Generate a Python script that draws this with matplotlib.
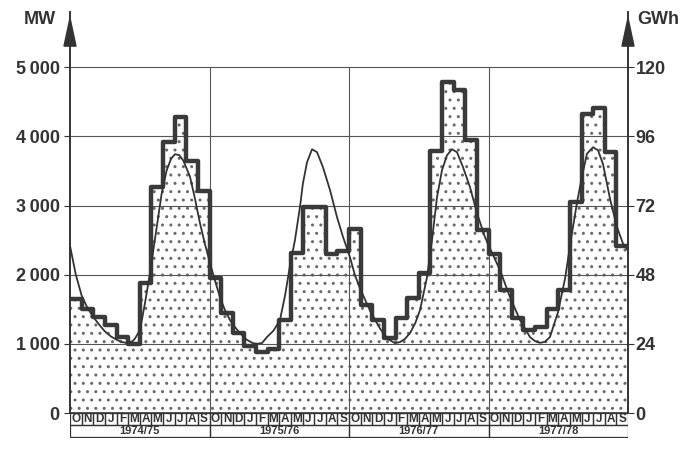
import numpy as np
import matplotlib.pyplot as plt
from matplotlib.patches import Rectangle

# Monatsbezeichnungen und Jahre
months = ["O", "N", "D", "J", "F", "M", "A", "M", "J", "J", "A", "S"]
seasons = ["1974/75", "1975/76", "1976/77", "1977/78"]

# mittlere Monatsleistung in MW (Treppenkurve)
power_mw = [
    1650, 1500, 1390, 1270, 1100, 1000, 1880, 3270, 3920, 4280, 3640, 3210,
    1950, 1445, 1156, 968, 881, 925, 1344, 2312, 2977, 2977, 2298, 2341,
    2659, 1561, 1344, 1084, 1373, 1662, 2023, 3786, 4783, 4668, 3945, 2645,
    2298, 1777, 1373, 1199, 1243, 1503, 1777, 3049, 4321, 4408, 3772, 2413,
]

# glatte Kurve: Zeit in Monaten ab Oktober 1974, Leistung in MW
curve_t = [
    0, 0.5, 1.0, 1.5, 2.0, 2.5, 3.0, 3.5, 4.0, 4.5, 4.9, 5.4, 5.6, 6.02,
    6.45, 6.88, 7.46, 7.89, 8.32, 8.7, 9.03, 9.4, 9.75, 10.32, 10.75, 11.18,
    11.6, 12.04, 12.5, 12.9, 13.3, 13.76, 14.2, 14.62, 15.2, 15.74, 16.1,
    16.52, 16.95, 17.5, 18.06, 18.5, 18.92, 19.35, 19.78, 20.04, 20.39,
    20.82, 21.25, 21.76, 22.37, 22.97, 23.48, 24.09, 24.5, 24.95, 25.81,
    26.67, 27.35, 27.96, 28.39, 28.8, 29.25, 29.7, 30.11, 30.71, 31.14,
    31.57, 32.0, 32.43, 32.86, 33.29, 33.81, 34.41, 35.01, 35.7, 36.13,
    36.99, 37.85, 38.71, 39.57, 40.0, 40.43, 40.86, 41.29, 41.98, 42.58,
    43.18, 43.61, 44.04, 44.47, 44.99, 45.42, 45.85, 46.45, 47.05, 47.57, 48.0,
]
curve_mw = [
    2420, 2000, 1700, 1520, 1390, 1280, 1180, 1110, 1060, 1025, 1012, 1040,
    1080, 1200, 1590, 2023, 2688, 3179, 3512, 3680, 3743, 3730, 3650, 3420,
    3100, 2746, 2450, 2168, 1900, 1676, 1500, 1344, 1240, 1156, 1060, 1010,
    1002, 1012, 1100, 1190, 1344, 1700, 2130, 2500, 2977, 3324, 3627, 3815,
    3772, 3555, 3222, 2832, 2550, 2250, 2000, 1800, 1480, 1220, 1070, 1010,
    1026, 1070, 1156, 1300, 1488, 1965, 2500, 3121, 3512, 3728, 3815, 3772,
    3555, 3266, 2890, 2543, 2380, 2066, 1676, 1344, 1098, 1040, 1015, 1030,
    1100, 1460, 1940, 2600, 3040, 3420, 3750, 3844, 3800, 3600, 3100, 2690,
    2450, 2350,
]

left_ticks = [0, 1000, 2000, 3000, 4000, 5000]
left_labels = ["0", "1\u2009000", "2\u2009000", "3\u2009000", "4\u2009000", "5\u2009000"]
right_labels = ["0", "24", "48", "72", "96", "120"]

ink = "#333333"
plt.rcParams["font.family"] = ["Liberation Sans", "DejaVu Sans"]
plt.rcParams["hatch.linewidth"] = 1.0
plt.rcParams["hatch.color"] = "#6a6a6a"

fig = plt.figure(figsize=(6.94, 4.5), dpi=100)
W, H = 694, 450
x0, x1, yb, yt = 70, 628, 413, 12
ax = fig.add_axes([x0 / W, 1 - yb / H, (x1 - x0) / W, (yb - yt) / H])
tab = fig.add_axes([x0 / W, 1 - 438 / H, (x1 - x0) / W, 25 / H])

n = len(power_mw)
edges = np.arange(n + 1)
vals = np.append(power_mw, power_mw[-1])

ax.fill_between(edges, vals, step="post", facecolor="white",
                edgecolor="#6a6a6a", hatch="..", lw=0, zorder=1)
ax.step(edges, vals, where="post", color="#3a3a3a", lw=3.2, zorder=4)
ax.plot(curve_t, curve_mw, color=ink, lw=1.3, zorder=5)

for v in left_ticks[1:]:
    ax.axhline(v, color="#555555", lw=0.8, zorder=2)
ax.axhline(0, color=ink, lw=1.2, zorder=3)
ax.vlines([12, 24, 36], 0, 5000, color="#555555", lw=0.8, zorder=2)

ax.set_xlim(0, n)
ax.set_ylim(0, 5800)
ax.set_xticks([])
ax.set_yticks(left_ticks)
ax.set_yticklabels(left_labels)
ax.tick_params(axis="y", direction="out", length=4, width=0.8, color=ink,
               labelsize=13, labelcolor=ink, pad=3.5)

ax2 = ax.twinx()
ax2.set_ylim(0, 5800)
ax2.set_yticks(left_ticks)
ax2.set_yticklabels(right_labels)
ax2.tick_params(axis="y", direction="out", length=4, width=0.8, color=ink,
                labelsize=13, labelcolor=ink, pad=1.5)

for a in (ax, ax2):
    for s in ("top", "bottom"):
        a.spines[s].set_visible(False)
    a.spines["left"].set_color(ink)
    a.spines["right"].set_color(ink)
    a.spines["left"].set_linewidth(1.2)
    a.spines["right"].set_linewidth(1.2)
    for lab in a.get_yticklabels():
        lab.set_fontweight("bold")

# Pfeilspitzen an den Achsen
for xa in (0, n):
    ax.annotate("", xy=(xa, 5800), xytext=(xa, 5300),
                arrowprops=dict(arrowstyle="-|>,head_length=1.4,head_width=0.3",
                                color=ink, lw=1.2, mutation_scale=14),
                annotation_clip=False, zorder=6)

fig.text(40 / W, 1 - 20 / H, "MW", ha="center", va="center",
         fontsize=13, fontweight="bold", color=ink)
fig.text(637 / W, 1 - 20 / H, "GWh", ha="left", va="center",
         fontsize=13, fontweight="bold", color=ink)

# Monats- und Jahresleiste
tab.set_xlim(0, n)
tab.set_ylim(0, 2)
tab.axis("off")
for i in range(n):
    tab.add_patch(Rectangle((i, 1.05), 1, 0.95, fill=False, ec=ink, lw=0.9))
    tab.text(i + 0.5, 1.5, months[i % 12], ha="center", va="center",
             fontsize=8.5, fontweight="bold", color=ink)
for k, s in enumerate(seasons):
    tab.add_patch(Rectangle((12 * k, 0.05), 12, 1.0, fill=False, ec=ink, lw=0.9))
    tab.text(12 * k + 6, 0.52, s, ha="center", va="center",
             fontsize=8, fontweight="bold", color=ink)

fig.savefig("out.png", dpi=100)
